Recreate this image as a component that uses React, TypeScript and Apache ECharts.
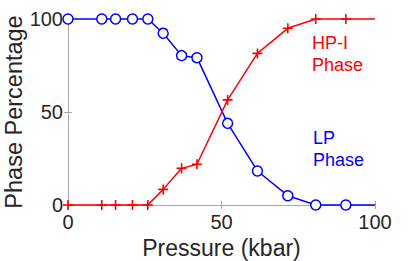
import React, { useEffect, useRef } from "react";
import * as echarts from "echarts";

const pressure = [0, 11, 15.5, 21, 26, 31, 37, 42, 52, 61.7, 71.6, 80.7, 90.5, 100];
const lpPhase = [100, 100, 100, 100, 100, 92.3, 80.3, 79.2, 43.9, 18.3, 5, 0, 0, 0];
const hpPhase = [0, 0, 0, 0, 0, 8.4, 19.7, 21.9, 56.5, 81.5, 95, 100, 100, 100];
const xTicks = [0, 50, 100];
const yTicks = [0, 50, 100];

const plusPath = "path://M4.2,0H5.8V4.2H10V5.8H5.8V10H4.2V5.8H0V4.2H4.2Z";

export default function App() {
  const ref = useRef<HTMLDivElement>(null);
  useEffect(() => {
    if (!ref.current) return;
    const chart = echarts.init(ref.current, null, { renderer: "svg" });
    const font = "'Liberation Sans', Arial, sans-serif";
    const axisLine = { show: true, lineStyle: { color: "#a6a6a6", width: 1 } };
    const tick = { show: true, inside: true, length: 4, lineStyle: { color: "#a6a6a6" } };
    const lpData = pressure.map((p, i) => ({
      value: [p, lpPhase[i]],
      symbol: i === pressure.length - 1 ? "none" : "circle",
    }));
    const hpData = pressure.map((p, i) => ({
      value: [p, hpPhase[i]],
      symbol: i === pressure.length - 1 ? "none" : plusPath,
    }));
    chart.setOption({
      animation: false,
      backgroundColor: "#ffffff",
      textStyle: { fontFamily: font },
      grid: { left: 68, right: 40, top: 19, bottom: 56, containLabel: false, outerBoundsMode: "none" },
      xAxis: [
        {
          type: "value",
          min: xTicks[0],
          max: xTicks[xTicks.length - 1],
          interval: 50,
          axisLine,
          axisTick: tick,
          splitLine: { show: false },
          axisLabel: { color: "#262626", fontSize: 20, fontFamily: font, margin: 7 },
          name: "Pressure (kbar)",
          nameLocation: "middle",
          nameGap: 30,
          nameTextStyle: { color: "#262626", fontSize: 23, fontFamily: font },
        },
        {
          type: "value",
          position: "top",
          min: 0,
          max: 100,
          interval: 50,
          axisLine,
          axisTick: tick,
          splitLine: { show: false },
          axisLabel: { show: false },
        },
      ],
      yAxis: [
        {
          type: "value",
          min: yTicks[0],
          max: yTicks[yTicks.length - 1],
          interval: 50,
          axisLine,
          axisTick: tick,
          splitLine: { show: false },
          axisLabel: { color: "#262626", fontSize: 20, fontFamily: font, margin: 5 },
          name: "Phase Percentage",
          nameLocation: "middle",
          nameGap: 42,
          nameMoveOverlap: false,
          nameTextStyle: { color: "#262626", fontSize: 23.5, fontFamily: font },
        },
        {
          type: "value",
          position: "right",
          min: 0,
          max: 100,
          interval: 50,
          axisLine,
          axisTick: tick,
          splitLine: { show: false },
          axisLabel: { show: false },
        },
      ],
      series: [
        {
          type: "line",
          data: lpData,
          symbolSize: 10,
          showAllSymbol: true,
          clip: false,
          lineStyle: { color: "#0000ff", width: 1.5 },
          itemStyle: { color: "#ffffff", borderColor: "#0000ff", borderWidth: 1.5 },
          z: 3,
        },
        {
          type: "line",
          data: hpData,
          symbolSize: 10,
          showAllSymbol: true,
          clip: false,
          lineStyle: { color: "#ff0000", width: 1.5 },
          itemStyle: { color: "#ff0000", borderWidth: 0 },
          z: 4,
        },
      ],
      graphic: [
        {
          type: "text",
          left: 312,
          top: 32,
          style: {
            text: "HP-I\nPhase",
            fill: "#ff0000",
            font: "18px 'Liberation Sans', Arial, sans-serif",
            lineHeight: 22,
          },
        },
        {
          type: "text",
          left: 313,
          top: 127,
          style: {
            text: "LP\nPhase",
            fill: "#0000ff",
            font: "18px 'Liberation Sans', Arial, sans-serif",
            lineHeight: 22,
          },
        },
      ],
    });
    return () => chart.dispose();
  }, []);
  return <div ref={ref} style={{ width: 415, height: 261, position: "absolute", left: 0, top: 0 }} />;
}
